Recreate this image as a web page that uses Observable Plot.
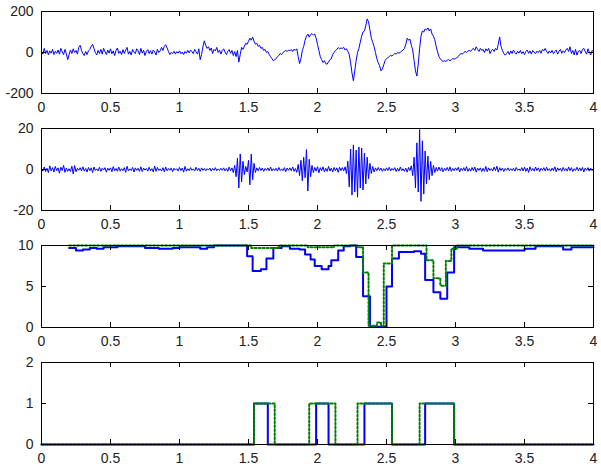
<!DOCTYPE html>
<html><head><meta charset="utf-8">
<script src="https://cdn.jsdelivr.net/npm/d3@7"></script>
<script src="https://cdn.jsdelivr.net/npm/@observablehq/plot@0.6"></script>
<style>body{margin:0;background:#fff} #chart svg{display:block}</style>
</head><body><div id="chart"></div>
<script>
const xTicks = [0, 0.5, 1, 1.5, 2, 2.5, 3, 3.5, 4];
const tStep = 0.01;

// Panel 1: raw signal, sampled every 0.01 s from 0 to 4
const rawSignal = [
  5, -8, 20, -5, 10, -12, 8, -3, 15, -10,
  6, -4, 12, -8, 20, 3, -10, 15, -6, -35,
  -10, 12, -5, 18, 0, 10, -8, 25, 35, 10,
  -5, -15, 5, -10, 8, 15, 30, 40, 20, 0,
  -12, 10, -5, 15, -8, 20, 5, -10, 12, -3,
  18, -6, 8, -15, 10, 22, -4, 6, -10, 14,
  -5, 12, 25, -8, 5, -12, 15, 2, -6, 18,
  8, -10, 20, -3, 10, -15, 6, 14, -5, 9,
  -8, 12, 3, -12, 15, 0, 8, 25, 10, 30,
  38, 22, 5, -10, 0, -5, 6, -8, 4, -3,
  8, -6, 2, -10, 5, -4, 10, -2, 12, 4,
  -6, 15, 3, -8, 18, -35, -10, 30, 57, 35,
  20, 28, 10, 22, -5, 15, 8, 25, 0, 12,
  -8, 10, 18, 2, -10, 6, 14, -4, 10, -15,
  5, -20, 10, -47, -10, 25, 15, 30, 45, 40,
  55, 70, 60, 75, 55, 40, 45, 30, 35, 20,
  25, 10, 15, 0, 5, -10, -20, -30, -40, -35,
  -30, -20, -15, -5, -10, 0, 5, 10, 5, 12,
  8, 15, 5, 16, 10, 18, -20, -54, -30, 10,
  30, 60, 80, 90, 75, 88, 92, 85, 90, 70,
  40, 10, -20, -35, -49, -40, -55, -57, -45, -35,
  -30, -10, 0, 10, 15, 24, 18, 22, 20, 25,
  12, 18, 5, -10, -50, -100, -138, -90, -40, 0,
  20, 50, 80, 100, 105, 130, 164, 150, 110, 70,
  50, 29, 0, -30, -50, -64, -90, -80, -60, -39,
  -30, -25, -20, -14, -18, -10, -5, -8, 0, -3,
  0, 8, 12, 20, 40, 70, 60, 65, 35, 12,
  -40, -90, -115, -56, 20, 80, 105, 100, 115, 110,
  120, 105, 115, 90, 80, 62, 30, 3, -20, -30,
  -39, -44, -40, -44, -38, -35, -40, -35, -30, -32,
  -30, -25, -20, -10, -5, -8, 0, 5, 0, 8,
  10, 5, 15, 20, 10, 28, 15, 5, 20, 10,
  15, 0, 18, 8, 20, -5, 10, 15, 5, 20,
  12, 40, 76, 30, 10, -5, -13, -5, 5, -10,
  8, -5, 12, 0, -8, 6, -3, 10, -6, 4,
  -10, 5, 12, -4, 8, -8, 10, 2, -6, 6,
  0, 10, -4, 15, 8, 20, 5, -5, 8, -2,
  10, -6, 5, 12, -8, 6, 15, -4, 8, 0,
  12, 20, 5, 28, -5, 10, -12, 15, -13, 6,
  10, -5, 15, 20, 5, -8, 18, 0, -12, 10,
  5
];

// Panel 2: high-pass filtered signal, every 0.01 s
const hpSignal = [
  0.5, -0.8, 1.2, -1.0, 0.6, -1.5, 1.8, -0.7, 0.9, -1.2,
  1.5, -0.6, 0.8, -1.8, 1.1, -0.5, 2.0, -1.4, 0.7, -0.9,
  0.4, -1.0, 1.6, -2.2, 1.9, -1.1, 0.6, -0.4, 0.9, -0.7,
  1.3, -0.8, 0.5, -1.2, 1.0, -0.6, 0.8, -1.5, 1.2, -0.5,
  0.3, -0.7, 1.1, -0.9, 0.6, -0.3, 0.9, -1.3, 0.7, -0.4,
  0.8, -1.1, 1.4, -0.6, 0.5, -0.9, 1.2, -0.8, 0.4, -0.6,
  0.9, -1.4, 1.6, -0.7, 0.3, -0.5, 1.0, -1.2, 0.8, -0.4,
  0.6, -0.9, 1.3, -1.0, 0.7, -0.3, 0.5, -0.8, 1.1, -0.6,
  0.4, -1.2, 1.7, -0.9, 1.0, -0.5, 0.3, -0.7, 0.9, -1.1,
  1.2, -0.6, 0.5, -0.4, 0.8, -1.0, 0.6, -0.3, 0.4, -0.8,
  1.0, -0.5, 0.7, -1.3, 1.5, -0.8, 0.4, -0.6, 0.9, -0.4,
  0.3, -0.7, 1.1, -0.5, 0.6, -0.9, 0.8, -0.4, 0.5, -0.6,
  0.4, -0.3, 0.7, -0.8, 0.5, -0.4, 0.9, -0.6, 0.3, -0.5,
  0.6, -0.4, 0.8, -0.7, 0.5, -0.9, 1.2, -0.6, 0.8, -1.5,
  2.0, -3.5, 5.5, -9.0, 7.6, -6.0, 4.0, -2.5, 1.5, -1.2,
  4.5, -7.5, 7.5, -5.0, 3.0, -1.5, 0.8, -0.6, 1.0, -0.5,
  0.7, -0.9, 0.5, -0.4, 0.8, -0.6, 1.2, -0.7, 0.4, -0.5,
  0.6, -0.8, 1.0, -0.5, 0.3, -0.6, 0.9, -1.1, 0.7, -0.4,
  0.8, -0.6, 1.2, -0.9, 0.5, -1.4, 2.5, -3.0, 4.5, -5.5,
  6.0, -4.0, 9.7, -10.5, 5.0, -3.5, 2.0, -1.5, 1.0, -0.8,
  1.4, -1.6, 0.9, -0.7, 1.3, -1.1, 0.6, -0.9, 1.5, -0.8,
  0.7, -1.2, 1.0, -0.6, 0.8, -1.4, 1.1, -0.5, 0.9, -0.7,
  1.3, -2.0, 4.0, -8.5, 10.0, -12.5, 12.0, -11.0, 9.5, -13.5,
  11.0, -9.0, 10.5, -10.0, 8.0, -7.0, 6.0, -4.5, 3.0, -2.0,
  1.5, -1.2, 0.8, -0.6, 1.0, -0.5, 0.7, -0.9, 0.4, -0.6,
  0.8, -0.5, 1.1, -0.7, 0.5, -0.4, 0.9, -1.0, 0.6, -0.8,
  1.2, -0.6, 0.4, -0.9, 0.7, -1.3, 1.0, -0.5, 1.8, -3.0,
  6.0, -9.0, 13.0, -11.0, 19.5, -15.5, 14.0, -12.0, 9.0, -7.0,
  6.5, -5.0, 4.0, -3.0, 2.0, -1.5, 1.0, -0.8, 1.2, -0.6,
  0.9, -1.1, 0.6, -0.5, 1.0, -0.7, 1.3, -0.9, 0.5, -0.6,
  0.8, -0.4, 1.1, -1.2, 0.6, -0.5, 0.9, -0.7, 1.4, -0.9,
  0.5, -0.8, 1.0, -0.6, 1.2, -1.3, 0.7, -0.4, 0.8, -1.0,
  0.6, -0.9, 1.5, -1.1, 0.8, -0.5, 0.4, -0.7, 1.2, -0.6,
  1.6, -1.3, 0.9, -0.5, 0.7, -1.0, 0.5, -0.4, 0.8, -0.6,
  0.4, -0.5, 0.6, -0.8, 1.0, -0.4, 0.3, -0.6, 0.9, -0.7,
  1.1, -0.9, 0.7, -1.4, 1.3, -0.6, 0.5, -0.8, 1.2, -0.5,
  0.8, -1.0, 0.6, -0.4, 0.9, -0.7, 1.1, -0.5, 0.4, -0.8,
  0.7, -0.6, 1.3, -1.1, 0.8, -0.4, 0.6, -0.9, 1.0, -0.5,
  0.5, -0.8, 1.2, -0.6, 0.9, -1.0, 0.4, -0.5, 1.1, -0.7,
  0.8, -0.6, 1.0, -1.2, 0.7, -0.4, 0.9, -0.8, 0.6, -0.5,
  0.3
];

// Panel 3: step series (change time, level)
const p3BlueT = [0.20, 0.25, 0.30, 0.35, 0.40, 0.45, 0.55, 0.75, 0.85, 0.95, 1.00, 1.15, 1.20, 1.25, 1.49, 1.53, 1.59, 1.63, 1.68, 1.74, 1.80, 1.87, 1.91, 1.95, 1.98, 2.03, 2.08, 2.10, 2.15, 2.19, 2.24, 2.28, 2.33, 2.38, 2.50, 2.54, 2.59, 2.70, 2.75, 2.78, 2.84, 2.89, 2.94, 2.99, 3.10, 3.20, 3.50, 3.58, 3.78, 3.84, 4.00];
const p3BlueV = [9.7, 9.4, 9.5, 9.7, 9.6, 9.8, 9.9, 9.7, 9.6, 9.7, 9.8, 9.6, 9.8, 10, 8.7, 6.9, 7.1, 8.4, 9.7, 9.9, 9.6, 9.5, 8.9, 8.3, 7.5, 7.1, 7.5, 8.2, 9.4, 9.9, 10, 8.6, 3.8, 0.1, 5.0, 8.4, 9.2, 9.3, 9.0, 5.8, 4.3, 3.5, 6.7, 9.8, 9.6, 9.4, 9.6, 9.9, 9.5, 9.8, 9.8];
const p3GreenT = [0.20, 1.52, 1.72, 1.93, 2.12, 2.29, 2.33, 2.37, 2.43, 2.46, 2.48, 2.54, 2.79, 2.84, 2.89, 2.93, 2.97, 3.01, 4.00];
const p3GreenV = [10, 9.7, 10, 9.8, 10, 9.8, 6.7, 0.2, 0.6, 0.2, 7.8, 10, 8.2, 6.0, 5.1, 8.1, 9.6, 10, 10];

// Panel 4: binary decisions (change time, level)
const p4BlueT = [0, 1.54, 1.64, 1.99, 2.08, 2.34, 2.54, 2.78, 2.99, 4];
const p4BlueV = [0, 1, 0, 1, 0, 1, 0, 1, 0, 0];
const p4GreenT = [0, 1.54, 1.69, 1.94, 2.13, 2.29, 2.54, 2.74, 2.99, 4];
const p4GreenV = [0, 1, 0, 1, 0, 1, 0, 1, 0, 0];

const blue = "#0000ff", green = "#008000";
const sampled = arr => arr.map((v, i) => ({t: i * tStep, v}));
const zipped = (T, V) => T.map((t, i) => ({t, v: V[i]}));

function panel(lines, yDomain, yTicks) {
  const W = 601, H = 117, ml = 41, mr = 8, mt = 11, mb = 24, tl = 5;
  const fw = W - ml - mr, fh = H - mt - mb;
  return Plot.plot({
    width: W, height: H,
    marginLeft: ml, marginRight: mr, marginTop: mt, marginBottom: mb,
    style: {fontFamily: "Arial, 'Liberation Sans', sans-serif", fontSize: "14px", color: "#222", background: "#fff", overflow: "visible"},
    x: {domain: [0, 4]},
    y: {domain: yDomain},
    marks: [
      ...lines,
      Plot.frame({stroke: "#000"}),
      Plot.tickX(xTicks, {x: d => d, stroke: "#000", insetTop: fh - tl}),
      Plot.tickX(xTicks, {x: d => d, stroke: "#000", insetBottom: fh - tl}),
      Plot.tickY(yTicks, {y: d => d, stroke: "#000", insetRight: fw - tl}),
      Plot.tickY(yTicks, {y: d => d, stroke: "#000", insetLeft: fw - tl}),
      Plot.axisX({ticks: xTicks, tickSize: 0, tickPadding: 9, tickFormat: d => String(d), label: null}),
      Plot.axisY({ticks: yTicks, tickSize: 0, tickPadding: 8, tickFormat: d => String(d), label: null})
    ]
  });
}

const chart = document.getElementById("chart");
chart.append(panel([
  Plot.line(sampled(rawSignal), {x: "t", y: "v", stroke: blue, strokeWidth: 1})
], [-200, 200], [-200, 0, 200]));
chart.append(panel([
  Plot.line(sampled(hpSignal), {x: "t", y: "v", stroke: blue, strokeWidth: 1})
], [-20, 20], [-20, 0, 20]));
chart.append(panel([
  Plot.line(zipped(p3BlueT, p3BlueV), {x: "t", y: "v", stroke: blue, strokeWidth: 2, curve: "step-after"}),
  Plot.line(zipped(p3GreenT, p3GreenV), {x: "t", y: "v", stroke: green, strokeWidth: 2, strokeDasharray: "2,2", curve: "step-after"})
], [0, 10], [0, 5, 10]));
chart.append(panel([
  Plot.line(zipped(p4BlueT, p4BlueV), {x: "t", y: "v", stroke: blue, strokeWidth: 2, curve: "step-after"}),
  Plot.line(zipped(p4GreenT, p4GreenV), {x: "t", y: "v", stroke: green, strokeWidth: 2, strokeDasharray: "2,2", curve: "step-after"})
], [0, 2], [0, 1, 2]));
</script>
</body></html>
